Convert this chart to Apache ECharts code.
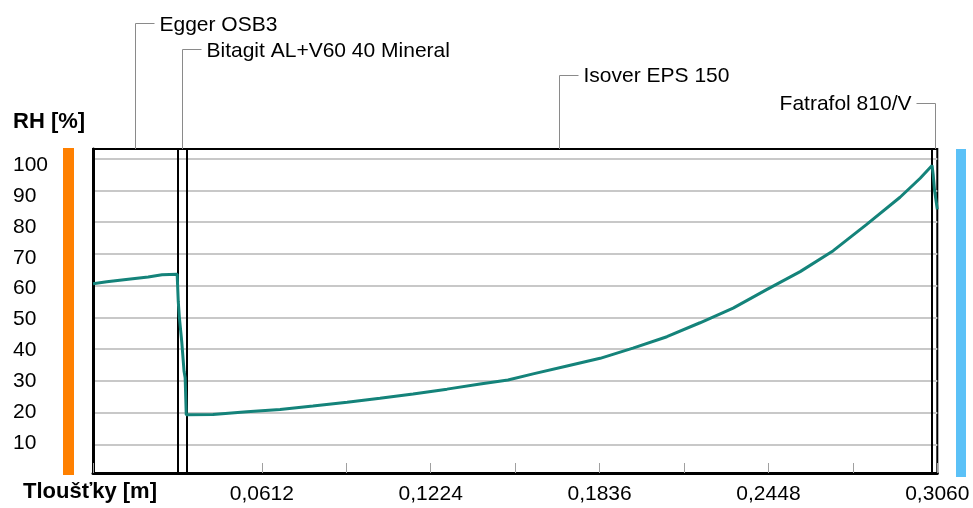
<!DOCTYPE html>
<html>
<head>
<meta charset="utf-8">
<script src="https://cdn.jsdelivr.net/npm/echarts@6/dist/echarts.min.js"></script>
<style>
html,body{margin:0;padding:0;background:#fff;}
#c{width:973px;height:508px;}
</style>
</head>
<body>
<div id="c"></div>
<script>
// ---- data ----
const layerBounds = [0, 0.0306, 0.034, 0.304, 0.306];
const layerNames = ['Egger OSB3', 'Bitagit AL+V60 40 Mineral', 'Isover EPS 150', 'Fatrafol 810/V'];
const position = [0, 0.005, 0.012, 0.02, 0.025, 0.0305, 0.0309, 0.0313, 0.0322, 0.033, 0.0334, 0.0338,
  0.0341, 0.0435, 0.0558, 0.0678, 0.0797, 0.0921, 0.104, 0.116, 0.1283, 0.1403, 0.1504, 0.1595,
  0.1718, 0.1838, 0.1957, 0.208, 0.22, 0.232, 0.2443, 0.2563, 0.2683, 0.2803, 0.2925, 0.2998,
  0.3041, 0.3045, 0.305, 0.306];
const rh = [60.6, 61.2, 61.9, 62.7, 63.4, 63.6, 55, 50, 42, 33, 31, 19.3,
  19.3, 19.4, 20.3, 21.0, 22.1, 23.3, 24.5, 25.9, 27.4, 29.0, 30.3, 32.2,
  34.7, 37.1, 40.3, 43.9, 48.3, 52.9, 58.8, 64.4, 71.0, 79.2, 87.8, 93.8,
  97.8, 95, 90, 84];
const xTickStep = 0.0306;
const xTickLabels = ['0,0612', '0,1224', '0,1836', '0,2448', '0,3060'];
const yTickLabels = [10, 20, 30, 40, 50, 60, 70, 80, 90, 100];
const xTitle = 'Tloušťky [m]';
const yTitle = 'RH [%]';

// ---- chart ----
const FONT = 'Liberation Sans, Arial, sans-serif';
const chart = echarts.init(document.getElementById('c'), null, {renderer: 'canvas'});
const curve = position.map((x, i) => [x, rh[i]]);
const xMax = layerBounds[layerBounds.length - 1];

const option = {
  animation: false,
  backgroundColor: '#fff',
  textStyle: {fontFamily: FONT},
  grid: [
    {left: 93, right: 35.7, top: 149, bottom: 35, show: true, borderColor: '#000', borderWidth: 2, backgroundColor: 'transparent'},
    {left: 93, right: 35.7, top: 158.5, bottom: 63.6},
    {left: 93, right: 35.7, top: 165, bottom: 33.8}
  ],
  xAxis: [
    {gridIndex: 0, type: 'value', min: 0, max: xMax, interval: xTickStep,
      axisLine: {show: true, lineStyle: {color: '#000', width: 3}},
      axisTick: {show: true, inside: true, length: 10, lineStyle: {color: '#a0a0a0', width: 1}},
      splitLine: {show: false},
      axisLabel: {show: true, color: '#000', fontSize: 21, fontFamily: FONT, margin: 11,
        showMinLabel: true, showMaxLabel: true, hideOverlap: false,
        formatter: function (v) {
          const s = v.toFixed(4).replace('.', ',');
          return xTickLabels.indexOf(s) >= 0 ? s : '';
        }}
    },
    {gridIndex: 1, type: 'value', min: 0, max: xMax, show: false},
    {gridIndex: 2, type: 'value', min: 0, max: xMax, show: false}
  ],
  yAxis: [
    {gridIndex: 0, type: 'value', min: 1, max: 103,
      axisLine: {show: true, lineStyle: {color: '#000', width: 3}},
      axisTick: {show: false}, axisLabel: {show: false}, splitLine: {show: false}},
    {gridIndex: 1, type: 'value', min: 10, max: 100, interval: 10,
      axisLine: {show: false}, axisTick: {show: false}, axisLabel: {show: false},
      splitLine: {show: true, lineStyle: {color: '#c8c8c8', width: 2}}},
    {gridIndex: 2, type: 'value', min: 0, max: 100, interval: 10,
      axisLine: {show: false}, axisTick: {show: false}, splitLine: {show: false},
      axisLabel: {show: true, align: 'left', margin: 80, color: '#000', fontSize: 21, fontFamily: FONT,
        formatter: function (v) { return yTickLabels.indexOf(v) >= 0 ? String(v) : ''; }}}
  ],
  series: [
    {type: 'line', xAxisIndex: 0, yAxisIndex: 0, data: curve, showSymbol: false, z: 5,
      lineStyle: {color: '#14837a', width: 3}, itemStyle: {color: '#14837a'},
      markLine: {silent: true, symbol: 'none', label: {show: false}, z: 4, precision: 6,
        lineStyle: {color: '#000', width: 2, type: 'solid'},
        data: layerBounds.slice(1, -1).map(x => ({xAxis: x}))}
    }
  ]
};
chart.setOption(option);

// leader lines + titles
const levels = [23.3, 49.3, 75, 102.7];
const dirs = [1, 1, 1, -1];
const g = [];
const topPx = chart.convertToPixel({gridIndex: 0}, [0, 103])[1];
for (let i = 0; i < layerNames.length; i++) {
  const mid = (layerBounds[i] + layerBounds[i + 1]) / 2;
  const px = Math.round(chart.convertToPixel({gridIndex: 0}, [mid, 50])[0]) + 0.5;
  const ly = Math.round(levels[i]) + 0.5;
  const hx = px + dirs[i] * 19;
  g.push({type: 'polyline', shape: {points: [[px, topPx], [px, ly], [hx, ly]]},
    style: {stroke: '#8a8a8a', lineWidth: 1, fill: null}, z: 10});
  g.push({type: 'text', x: hx + dirs[i] * 5, y: levels[i] + 1.5,
    style: {text: layerNames[i], font: '21px ' + FONT, fill: '#000',
      textAlign: dirs[i] > 0 ? 'left' : 'right', textVerticalAlign: 'middle'}, z: 10});
}
g.push({type: 'text', x: 13, y: 122.3, style: {text: yTitle, font: 'bold 22px ' + FONT, fill: '#000', textAlign: 'left', textVerticalAlign: 'middle'}, z: 10});
g.push({type: 'text', x: 23, y: 492, style: {text: xTitle, font: 'bold 22px ' + FONT, fill: '#000', textAlign: 'left', textVerticalAlign: 'middle'}, z: 10});
// side boundary bars (interior / exterior)
g.push({type: 'rect', shape: {x: 63, y: 148, width: 11, height: 327}, style: {fill: '#ff8000'}, z: 10});
g.push({type: 'rect', shape: {x: 956, y: 149, width: 10, height: 328}, style: {fill: '#5bc1f7'}, z: 10});
chart.setOption({graphic: {elements: g}});
</script>
</body>
</html>
